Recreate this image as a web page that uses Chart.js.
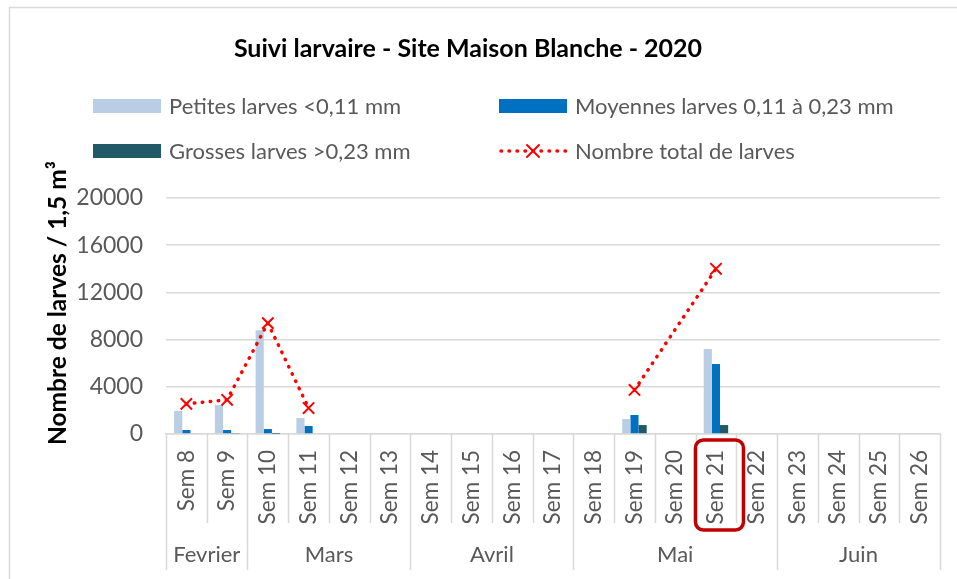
<!DOCTYPE html>
<html>
<head>
<meta charset="utf-8">
<script src="https://cdn.jsdelivr.net/npm/chart.js@4/dist/chart.umd.min.js"></script>
<style>
  html, body { margin: 0; padding: 0; background: #fff; }
  #wrap { width: 957px; height: 579px; position: relative; }
</style>
</head>
<body>
<div id="wrap"><canvas id="c" width="957" height="579"></canvas></div>
<script>
// Suivi larvaire - Site Maison Blanche - 2020
const categories = ['Sem 8', 'Sem 9', 'Sem 10', 'Sem 11', 'Sem 12', 'Sem 13', 'Sem 14', 'Sem 15', 'Sem 16', 'Sem 17',
    'Sem 18', 'Sem 19', 'Sem 20', 'Sem 21', 'Sem 22', 'Sem 23', 'Sem 24', 'Sem 25', 'Sem 26'];
const months = ['Fevrier', 'Mars', 'Avril', 'Mai', 'Juin'];
const monthSpans = [2, 4, 4, 5, 4];

const petites  = [1950, 2450, 8800, 1350, null, null, null, null, null, null, null, 1270, null, 7200, null, null, null, null, null];
const moyennes = [340, 340, 420, 680, null, null, null, null, null, null, null, 1610, null, 5930, null, null, null, null, null];
const grosses  = [60, 40, 10, 0, null, null, null, null, null, null, null, 760, null, 760, null, null, null, null, null];
const totaux   = [2550, 2900, 9400, 2200, null, null, null, null, null, null, null, 3730, null, 14000, null, null, null, null, null];

const yTicks = [0, 4000, 8000, 12000, 16000, 20000];

const FONT = 'Lato, "Open Sans", sans-serif';
const GREY = '#595959';
const LINE = '#d9d9d9';

// points du total (on garde seulement les semaines mesurées)
const totalPoints = totaux
    .map((v, i) => ({ x: categories[i], y: v }))
    .filter(p => p.y !== null);

const decor = {
    id: 'decor',
    beforeDraw(chart) {
        const c = chart.ctx;
        c.save();
        c.fillStyle = '#fff';
        c.fillRect(0, 0, chart.width, chart.height);
        c.strokeStyle = LINE;
        c.lineWidth = 1.5;
        c.beginPath();
        c.moveTo(9.5, chart.height + 5);
        c.lineTo(9.5, 7.5);
        c.lineTo(chart.width + 5, 7.5);
        c.stroke();
        c.restore();
    },
    afterDraw(chart) {
        const c = chart.ctx;
        const x = chart.scales.x;
        const area = chart.chartArea;
        c.save();

        // titre
        c.fillStyle = '#000';
        c.font = 'bold 25px ' + FONT;
        c.textAlign = 'center';
        c.textBaseline = 'alphabetic';
        c.fillText('Suivi larvaire - Site Maison Blanche - 2020', 468, 57);

        // titre axe y
        c.save();
        c.translate(58, 303);
        c.rotate(-Math.PI / 2);
        c.font = 'bold 24.5px ' + FONT;
        c.textBaseline = 'middle';
        c.fillText('Nombre de larves / 1,5 m³', 0, 0);
        c.restore();

        // légende
        const ds = chart.data.datasets;
        const legendPos = [[93, 106], [499, 106], [93, 151], [499, 151]];
        c.font = '22px ' + FONT;
        c.textAlign = 'left';
        c.textBaseline = 'middle';
        ds.forEach((d, k) => {
            const [lx, ly] = legendPos[k];
            if (d.type === 'line') {
                c.save();
                c.strokeStyle = d.borderColor;
                c.lineWidth = d.borderWidth;
                c.lineCap = 'round';
                c.setLineDash(d.borderDash);
                c.beginPath();
                c.moveTo(lx + 2, ly);
                c.lineTo(lx + 68, ly);
                c.stroke();
                c.setLineDash([]);
                c.lineWidth = 2;
                const r = 6;
                c.beginPath();
                c.moveTo(lx + 34 - r, ly - r); c.lineTo(lx + 34 + r, ly + r);
                c.moveTo(lx + 34 + r, ly - r); c.lineTo(lx + 34 - r, ly + r);
                c.stroke();
                c.restore();
            } else {
                c.fillStyle = d.backgroundColor;
                c.fillRect(lx, ly - 7, 68, 14);
            }
            c.fillStyle = GREY;
            c.fillText(d.label, lx + 76, ly + 1);
        });

        // séparateurs de l'axe x (semaines et mois)
        const edge = i => i === 0 ? area.left : i === categories.length ? area.right
            : (x.getPixelForValue(i - 1) + x.getPixelForValue(i)) / 2;
        const monthEdges = [0];
        monthSpans.forEach(s => monthEdges.push(monthEdges[monthEdges.length - 1] + s));
        c.strokeStyle = LINE;
        c.lineWidth = 1.5;
        for (let i = 0; i <= categories.length; i++) {
            const px = Math.round(edge(i)) + 0.5;
            const bottom = monthEdges.includes(i) ? area.bottom + 136 : area.bottom + 89;
            c.beginPath();
            c.moveTo(px, area.bottom);
            c.lineTo(px, bottom);
            c.stroke();
        }
        c.fillStyle = GREY;
        c.font = '22px ' + FONT;
        c.textAlign = 'center';
        c.textBaseline = 'middle';
        months.forEach((m, k) => {
            const cx = (edge(monthEdges[k]) + edge(monthEdges[k + 1])) / 2;
            c.fillText(m, cx, area.bottom + 121);
        });

        // cadre rouge autour de Sem 21
        const sx = x.getPixelForValue(categories.indexOf('Sem 21'));
        c.strokeStyle = '#c00000';
        c.lineWidth = 3.5;
        c.beginPath();
        c.roundRect(sx - 20.5, area.bottom + 6, 48, 90, 8);
        c.stroke();

        c.restore();
    }
};

new Chart(document.getElementById('c'), {
    type: 'bar',
    data: {
        labels: categories,
        datasets: [
            {
                label: 'Petites larves <0,11 mm',
                data: petites,
                backgroundColor: '#b9cde5',
                order: 2
            },
            {
                label: 'Moyennes larves 0,11 à 0,23 mm',
                data: moyennes,
                backgroundColor: '#0070c0',
                order: 2
            },
            {
                label: 'Grosses larves >0,23 mm',
                data: grosses,
                backgroundColor: '#215968',
                order: 2
            },
            {
                type: 'line',
                label: 'Nombre total de larves',
                data: totalPoints,
                borderColor: '#ff0000',
                backgroundColor: '#ff0000',
                borderWidth: 3.5,
                borderDash: [0.5, 7.5],
                borderCapStyle: 'round',
                spanGaps: 2,
                pointStyle: 'crossRot',
                pointRadius: 8,
                pointBorderWidth: 2,
                pointBorderColor: '#ff0000',
                tension: 0,
                order: 1
            }
        ]
    },
    options: {
        responsive: false,
        animation: false,
        categoryPercentage: 0.6,
        barPercentage: 1.0,
        layout: { padding: { left: 0, right: 17, top: 198, bottom: 9 } },
        plugins: {
            legend: { display: false },
            title: { display: false },
            tooltip: { enabled: false }
        },
        scales: {
            x: {
                grid: { display: false, drawTicks: false },
                border: { display: true, color: LINE, width: 1.5 },
                ticks: {
                    color: GREY,
                    font: { family: FONT, size: 22.5 },
                    minRotation: 90,
                    maxRotation: 90,
                    padding: 16,
                    autoSkip: false
                },
                afterFit: s => {
                    s.height = 136;
                    s.paddingLeft = 0;
                    s.paddingRight = 0;
                }
            },
            y: {
                min: 0,
                max: 20000,
                afterBuildTicks: s => { s.ticks = yTicks.map(v => ({ value: v })); },
                grid: { color: LINE, lineWidth: 1.5, drawTicks: false },
                border: { display: false },
                ticks: {
                    color: GREY,
                    font: { family: FONT, size: 23 },
                    padding: 23,
                    callback: v => String(v)
                },
                afterFit: s => {
                    s.width = 166;
                    s.paddingTop = 0;
                    s.paddingBottom = 0;
                }
            }
        }
    },
    plugins: [decor]
});
</script>
</body>
</html>
